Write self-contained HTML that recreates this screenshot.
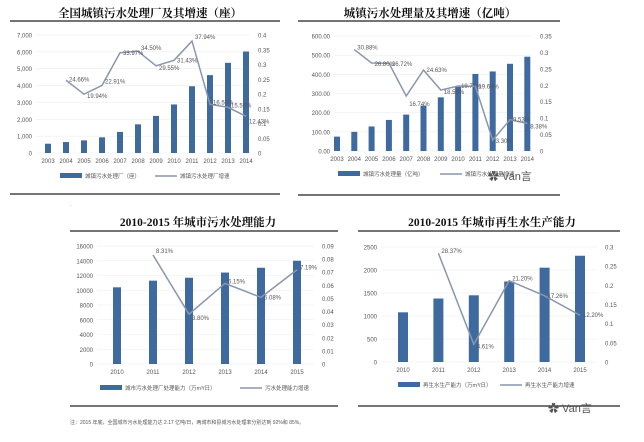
<!DOCTYPE html>
<html><head><meta charset="utf-8"><style>
body{margin:0;background:#fff;width:644px;height:442px;overflow:hidden}
svg{display:block}
text{font-family:"Liberation Sans","Noto Sans CJK SC",sans-serif;fill:#555}
.t{font-family:"Liberation Serif","Noto Serif CJK SC",serif;font-weight:bold;fill:#111;font-size:11.5px}
</style></head><body>
<svg id="s" width="644" height="442" xmlns="http://www.w3.org/2000/svg"></svg>
<script>
const s=document.getElementById('s');let h='';
function chart(c){
 const {x0,step,yb,yt,lmax,rmax,lticks,rticks,lx,rx,bars,line,years,bw,labels,lfmt,rfmt,leg1,leg2,legy,fs}=c;
 lticks.forEach(v=>{const y=yb-(yb-yt)*v/lmax;h+=`<line x1="${lx+4}" x2="${rx-8}" y1="${y}" y2="${y}" stroke="#eee" stroke-width="0.6"/>`;
  h+=`<text x="${lx}" y="${y+2.5}" font-size="${fs}" text-anchor="end">${lfmt(v)}</text>`});
 rticks.forEach(v=>{const y=yb-(yb-yt)*v/rmax;h+=`<text x="${rx}" y="${y+2.5}" font-size="${fs}">${rfmt(v)}</text>`});
 bars.forEach((v,i)=>{const x=x0+i*step;const y=yb-(yb-yt)*v/lmax;h+=`<rect x="${x-bw/2}" y="${y}" width="${bw}" height="${yb-y}" fill="#3f6aa0"/>`;
  h+=`<text x="${x}" y="${yb+10}" font-size="${fs}" text-anchor="middle">${years[i]}</text>`});
 let p=[];line.forEach((v,i)=>{if(v==null)return;p.push(`${x0+i*step},${yb-(yb-yt)*v/rmax}`)});
 h+=`<polyline points="${p.join(' ')}" fill="none" stroke="#8a96ad" stroke-width="1.5"/>`;
 line.forEach((v,i)=>{if(v==null)return;const x=x0+i*step+3,y=yb-(yb-yt)*v/rmax+(labels[i]||0);h+=`<text x="${x}" y="${y}" font-size="${fs}" fill="#444">${(v*100).toFixed(2)}%</text>`});
 h+=`<rect x="${leg1[0]}" y="${legy-3}" width="22" height="5" fill="#3f6aa0"/><text x="${leg1[0]+25}" y="${legy+2}" font-size="${fs-0.5}">${leg1[1]}</text>`;
 h+=`<line x1="${leg2[0]}" x2="${leg2[0]+22}" y1="${legy}" y2="${legy}" stroke="#8a96ad" stroke-width="1.5"/><text x="${leg2[0]+25}" y="${legy+2}" font-size="${fs-0.5}">${leg2[1]}</text>`;
}
const kf=v=>v==0?'0':v.toLocaleString('en-US');
h+=`<text class="t" x="150" y="17" text-anchor="middle">全国城镇污水处理厂及其增速（座）</text><line x1="10" x2="280" y1="21" y2="21" stroke="#222" stroke-width="1.2"/><line x1="10" x2="280" y1="194" y2="194" stroke="#222" stroke-width="1.2"/>`;
chart({x0:48,step:18,yb:153,yt:35,lmax:7000,rmax:0.4,lticks:[0,1000,2000,3000,4000,5000,6000,7000],rticks:[0,.05,.1,.15,.2,.25,.3,.35,.4],lx:32,rx:258,
 bars:[550,650,750,930,1250,1700,2200,2880,3960,4620,5350,6020],line:[null,.2466,.1994,.2291,.3397,.345,.2955,.3143,.3794,.1650,.1550,.1243],
 years:[2003,2004,2005,2006,2007,2008,2009,2010,2011,2012,2013,2014],bw:6,labels:[0,1,4,-2,2,-1,4,2,-2,0,0,7],lfmt:kf,rfmt:v=>v,leg1:[60,'城镇污水处理厂（座）'],leg2:[155,'城镇污水处理厂增速'],legy:176,fs:6});
h+=`<text class="t" x="430" y="17" text-anchor="middle">城镇污水处理量及其增速（亿吨）</text><line x1="298" x2="560" y1="21" y2="21" stroke="#222" stroke-width="1.2"/><line x1="298" x2="560" y1="195" y2="195" stroke="#222" stroke-width="1.2"/>`;
chart({x0:337,step:17.3,yb:151,yt:36,lmax:600,rmax:0.35,lticks:[0,100,200,300,400,500,600],rticks:[0,.05,.1,.15,.2,.25,.3,.35],lx:330,rx:540,
 bars:[75,100,128,162,190,237,280,335,402,415,455,492],line:[null,.3088,.268,.2672,.1674,.2463,.1855,.1977,.1968,.033,.0953,.0838],
 years:[2003,2004,2005,2006,2007,2008,2009,2010,2011,2012,2013,2014],bw:6,labels:[0,0,3,3,10,2,4,2,2,3,2,5],lfmt:v=>v.toFixed(2),rfmt:v=>v,leg1:[338,'城镇污水处理量（亿吨）'],leg2:[440,'城镇污水处理量增速'],legy:174,fs:6});
h+=`<text x="70" y="207" font-size="5">·</text><text class="t" x="198" y="226" text-anchor="middle">2010-2015 年城市污水处理能力</text><line x1="70" x2="338" y1="231" y2="231" stroke="#222" stroke-width="1.2"/><line x1="70" x2="338" y1="406" y2="406" stroke="#222" stroke-width="1.2"/>`;
chart({x0:117,step:36,yb:364,yt:246,lmax:16000,rmax:0.09,lticks:[0,2000,4000,6000,8000,10000,12000,14000,16000],rticks:[0,.01,.02,.03,.04,.05,.06,.07,.08,.09],lx:93,rx:322,
 bars:[10400,11300,11700,12400,13050,14000],line:[null,.0831,.038,.0615,.0508,.0719],years:[2010,2011,2012,2013,2014,2015],bw:8,labels:[0,-2,6,0,2,0],
 lfmt:v=>v,rfmt:v=>v,leg1:[100,'城市污水处理厂处理能力（万m³/日）'],leg2:[240,'污水处理能力增速'],legy:388,fs:6});
h+=`<text x="70" y="424" font-size="5" fill="#e03030">注：2015 年底，全国城市污水处理能力达 2.17 亿吨/日，两城市和县城污水处理率分别达到 92%和 85%。</text>`;
h+=`<text class="t" x="492" y="226" text-anchor="middle">2010-2015 年城市再生水生产能力</text><line x1="358" x2="620" y1="231" y2="231" stroke="#222" stroke-width="1.2"/><line x1="358" x2="620" y1="406" y2="406" stroke="#222" stroke-width="1.2"/>`;
chart({x0:403,step:35.4,yb:362,yt:247,lmax:2500,rmax:0.3,lticks:[0,500,1000,1500,2000,2500],rticks:[0,.05,.1,.15,.2,.25,.3],lx:377,rx:605,
 bars:[1080,1380,1450,1750,2050,2310],line:[null,.2837,.0461,.212,.1726,.122],years:[2010,2011,2012,2013,2014,2015],bw:10,labels:[0,0,4,0,2,2],
 lfmt:v=>v,rfmt:v=>v,leg1:[398,'再生水生产能力（万m³/日）'],leg2:[500,'再生水生产能力增速'],legy:385,fs:6});
h+=`<text x="488" y="180" font-size="11" fill="#aaa">✿ Van言</text><text x="548" y="412" font-size="11" fill="#888">✿ Van言</text>`;
s.innerHTML=h;
</script>
</body></html>
